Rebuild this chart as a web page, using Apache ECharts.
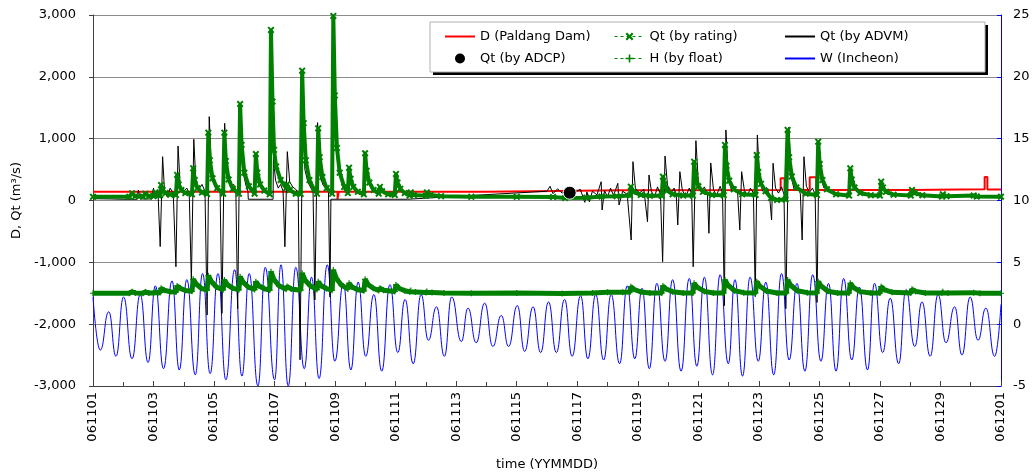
<!DOCTYPE html>
<html style="height: 100%">
   <head>
       <meta charset="utf-8">
   </head>
   <body style="height: 100%; margin: 0">
       <div id="container" style="width: 1034px; height: 476px"></div>
       <script type="text/javascript" src="https://cdn.jsdelivr.net/npm/echarts/dist/echarts.min.js"></script>
       <script type="text/javascript">
// time is in days from 061101 00:00
// D (Paldang Dam), m3/s, step line
var dataD = [
    [0,140],[8.08,25],[8.12,140],[13.0,165],[17.5,170],[22.72,360],[22.85,170],
    [23.68,375],[23.9,170],[27.0,180],[29.46,380],[29.55,178],[30,178]
];

// Qt (by rating), m3/s
var dataRating = [
    [0,60],[1.2,60],[1.29,116],[1.4,70],[1.65,65],[1.73,110],[1.85,70],[2.0,70],[2.06,130],[2.15,85],
    [2.22,90],[2.25,250],[2.3,170],[2.4,120],[2.55,95],[2.74,90],
    [2.78,413],[2.83,260],[2.92,170],[3.05,120],[3.27,100],
    [3.31,521],[3.36,330],[3.45,200],[3.6,130],[3.77,105],
    [3.81,1097],[3.86,650],[3.95,360],[4.1,200],[4.3,110],
    [4.34,1097],[4.39,640],[4.48,340],[4.62,190],[4.82,110],
    [4.86,1561],[4.91,900],[5.0,450],[5.15,230],[5.34,110],
    [5.38,752],[5.43,450],[5.52,260],[5.66,160],[5.84,100],
    [5.88,2759],[5.93,1600],[5.98,820],[6.05,550],[6.2,330],[6.38,200],
    [6.41,260],[6.5,170],[6.7,110],[6.86,105],
    [6.91,2100],[6.96,1250],[7.03,650],[7.15,330],[7.3,180],[7.4,110],
    [7.44,1168],[7.49,700],[7.58,380],[7.72,200],[7.9,110],
    [7.94,2985],[7.99,1700],[8.06,850],[8.15,450],[8.3,220],[8.42,120],
    [8.46,531],[8.51,350],[8.6,220],[8.75,140],[8.95,100],
    [8.99,764],[9.04,480],[9.13,290],[9.27,170],[9.44,110],
    [9.48,220],[9.55,150],[9.75,100],[9.97,90],
    [10.01,429],[10.06,290],[10.15,190],[10.3,120],[10.46,80],
    [10.5,130],[10.6,90],[11.0,75],[11.03,130],[11.15,90],[11.5,70],
    [12.5,60],[14.0,60],[15.2,55],[15.6,40],[16.3,45],[16.8,65],[17.3,70],[17.74,80],
    [17.77,223],[17.85,140],[18.1,90],[18.4,75],[18.79,75],
    [18.83,385],[18.88,260],[18.97,160],[19.15,100],[19.5,80],[19.82,80],
    [19.86,628],[19.91,400],[20.0,230],[20.15,140],[20.45,90],[20.84,85],
    [20.88,898],[20.93,560],[21.02,320],[21.17,180],[21.45,100],[21.89,90],
    [21.93,736],[21.98,460],[22.07,270],[22.22,150],[22.4,40],[22.6,10],[22.88,15],
    [22.95,1141],[23.0,700],[23.09,390],[23.24,210],[23.55,110],[23.92,90],
    [23.96,951],[24.01,590],[24.1,330],[24.25,180],[24.55,100],[24.98,80],
    [25.02,521],[25.07,340],[25.16,210],[25.35,120],[25.7,85],[26.0,80],
    [26.04,304],[26.1,210],[26.2,140],[26.45,95],[27.02,80],
    [27.06,170],[27.15,120],[27.4,85],[28.05,65],[28.08,100],[28.2,70],
    [29.1,80],[29.2,65],[30,62]
];

// Qt (by ADVM), m3/s
var dataADVM = [
    [0,30],[0.6,25],[1.0,20],[1.45,20],[1.5,170],[1.56,25],[1.95,25],[2.0,200],[2.06,60],[2.15,110],
    [2.22,-745],[2.30,709],[2.36,180],[2.45,60],[2.55,200],[2.65,120],
    [2.74,-1071],[2.81,882],[2.88,250],[3.0,150],[3.1,200],[3.18,110],
    [3.25,-1314],[3.33,990],[3.4,300],[3.5,180],[3.6,260],[3.7,150],
    [3.77,-1853],[3.84,1356],[3.92,400],[4.02,250],[4.12,200],[4.2,150],
    [4.26,-1825],[4.35,1249],[4.43,380],[4.55,220],[4.65,260],[4.72,160],
    [4.78,-1750],[4.86,1500],[4.94,500],[5.05,250],[5.12,150],[5.13,20],[5.95,20],
    [5.96,700],[6.03,330],[6.12,200],[6.2,260],[6.28,150],
    [6.34,-748],[6.42,790],[6.5,300],[6.6,220],[6.7,180],[6.78,120],
    [6.84,-2576],[6.93,1654],[7.0,500],[7.1,300],[7.2,200],[7.27,150],
    [7.33,-1610],[7.42,1259],[7.5,400],[7.6,250],[7.7,200],[7.78,150],
    [7.83,-1560],[7.86,20],[10.4,20],[12.1,70],[15.0,150],
    [15.1,230],[15.2,110],[15.35,190],[15.5,120],[15.65,160],[15.9,130],[16.1,180],[16.25,-30],
    [16.32,140],[16.4,-20],[16.5,150],[16.65,90],[16.79,304],[16.82,-154],[16.9,160],[17.0,60],
    [17.1,200],[17.2,80],[17.34,278],[17.38,-73],[17.5,150],[17.65,100],
    [17.78,-639],[17.84,628],[17.92,200],[18.05,120],[18.2,180],
    [18.32,-343],[18.37,413],[18.45,150],[18.55,50],[18.65,220],[18.75,100],
    [18.82,-990],[18.9,720],[18.98,250],[19.1,120],[19.2,200],[19.27,90],
    [19.32,-396],[19.39,466],[19.47,170],[19.58,60],[19.7,200],[19.78,110],
    [19.83,-1071],[19.92,968],[20.0,300],[20.1,150],[20.2,220],[20.3,100],
    [20.35,-530],[20.41,607],[20.5,180],[20.6,80],[20.72,230],[20.8,120],
    [20.86,-1700],[20.91,1141],[21.0,350],[21.1,160],[21.2,230],[21.3,110],
    [21.37,-477],[21.43,466],[21.52,170],[21.62,70],[21.72,200],[21.82,120],
    [21.88,-1555],[21.95,1060],[22.03,320],[22.13,150],[22.25,210],[22.35,100],
    [22.42,-316],[22.47,602],[22.55,200],[22.65,120],[22.75,220],[22.83,100],
    [22.89,-1750],[22.99,1184],[23.07,380],[23.17,170],[23.27,240],[23.37,110],
    [23.43,-639],[23.49,709],[23.57,230],[23.67,130],[23.77,200],[23.86,100],
    [23.92,-1650],[23.99,951],[24.07,330],[24.15,200]
];

// Qt (by ADCP), m3/s
var dataADCP = [
    [15.75,126]
];

// H (by float), m
var dataH = [
    [0,2.5],[1.2,2.5],[1.29,2.62],[1.4,2.52],[1.65,2.5],[1.73,2.6],[1.85,2.52],[2.0,2.52],[2.06,2.65],[2.15,2.55],
    [2.22,2.56],[2.25,2.9],[2.35,2.75],[2.55,2.62],[2.74,2.6],
    [2.78,3.09],[2.88,2.9],[3.05,2.72],[3.27,2.66],
    [3.31,3.63],[3.41,3.25],[3.58,2.9],[3.77,2.75],
    [3.81,3.92],[3.91,3.45],[4.08,3.0],[4.3,2.78],
    [4.34,3.57],[4.44,3.2],[4.61,2.92],[4.82,2.78],
    [4.86,3.84],[4.96,3.4],[5.13,3.0],[5.34,2.8],
    [5.38,3.44],[5.48,3.1],[5.65,2.88],[5.84,2.75],
    [5.88,4.24],[5.98,3.6],[6.15,3.1],[6.38,2.82],
    [6.41,3.05],[6.55,2.85],[6.86,2.75],
    [6.91,4.11],[7.01,3.55],[7.18,3.1],[7.4,2.8],
    [7.44,3.44],[7.54,3.1],[7.71,2.88],[7.9,2.75],
    [7.94,4.38],[8.04,3.7],[8.21,3.15],[8.42,2.85],
    [8.46,3.31],[8.56,3.0],[8.73,2.8],[8.95,2.7],
    [8.99,3.63],[9.09,3.2],[9.26,2.9],[9.44,2.72],
    [9.48,2.9],[9.6,2.75],[9.97,2.65],
    [10.01,3.17],[10.11,2.9],[10.3,2.7],[10.46,2.62],
    [10.5,2.72],[10.65,2.6],[11.0,2.56],[11.03,2.65],[11.2,2.56],[11.6,2.52],
    [12.5,2.5],[14.0,2.52],[15.5,2.48],[16.5,2.52],[17.0,2.58],[17.5,2.58],[17.74,2.6],
    [17.77,3.03],[17.87,2.82],[18.1,2.6],[18.4,2.52],[18.79,2.52],
    [18.83,3.09],[18.93,2.86],[19.15,2.62],[19.5,2.52],[19.82,2.52],
    [19.86,3.31],[19.96,3.0],[20.2,2.65],[20.5,2.52],[20.84,2.52],
    [20.88,3.57],[20.98,3.15],[21.2,2.7],[21.5,2.55],[21.89,2.52],
    [21.93,3.44],[22.03,3.08],[22.25,2.68],[22.6,2.52],[22.91,2.52],
    [22.95,3.57],[23.05,3.15],[23.27,2.7],[23.6,2.55],[23.92,2.52],
    [23.96,3.44],[24.06,3.08],[24.28,2.66],[24.6,2.52],[24.98,2.52],
    [25.02,3.31],[25.12,2.98],[25.35,2.63],[25.7,2.52],[26.0,2.52],
    [26.04,3.03],[26.14,2.8],[26.4,2.58],[27.02,2.52],
    [27.06,2.82],[27.18,2.65],[27.5,2.52],[28.05,2.52],[28.08,2.62],[28.25,2.52],
    [29.1,2.55],[29.3,2.5],[30,2.5]
];

// W (Incheon), m -- high and low waters
var dataW = [
    [0,2.2],[0.24,-2.1],[0.52,1.0],[0.76,-2.6],[1.01,2.2],[1.29,-2.8],[1.56,2.4],[1.82,-3.1],
    [2.06,3.1],[2.33,-3.6],[2.61,3.5],[2.85,-3.7],[3.10,3.6],[3.38,-4.1],[3.62,4.1],[3.87,-4.0],
    [4.13,4.1],[4.39,-4.5],[4.68,4.4],[4.92,-4.2],[5.16,4.1],[5.45,-5.0],[5.69,4.6],[6.0,-4.5],
    [6.21,4.8],[6.45,-5.0],[6.70,4.6],[6.98,-3.6],[7.22,3.8],[7.47,-4.4],[7.74,4.8],[7.99,-3.0],
    [8.27,3.3],[8.52,-3.7],[8.76,3.4],[9.01,-2.6],[9.28,2.4],[9.54,-3.8],[9.81,3.2],[10.07,-2.3],
    [10.31,2.0],[10.58,-3.2],[10.84,2.4],[11.08,-1.3],[11.35,1.4],[11.61,-2.6],[11.85,2.2],[12.17,-1.4],
    [12.39,1.3],[12.66,-1.5],[12.94,1.7],[13.21,-1.8],[13.49,0.7],[13.73,-1.8],[14.02,1.5],[14.26,-2.2],
    [14.54,1.4],[14.79,-2.3],[15.05,1.8],[15.31,-2.3],[15.58,2.0],[15.83,-2.6],[16.11,2.3],[16.35,-2.8],
    [16.61,2.4],[16.87,-2.9],[17.12,2.4],[17.40,-3.2],[17.65,3.1],[17.90,-2.8],[18.14,2.9],[18.38,-3.6],
    [18.63,3.3],[18.90,-3.0],[19.15,3.6],[19.43,-3.8],[19.70,3.7],[19.95,-3.4],[20.20,3.8],[20.47,-4.1],
    [20.72,4.0],[20.99,-3.2],[21.21,3.6],[21.46,-4.2],[21.71,3.8],[21.98,-3.0],[22.23,3.4],[22.49,-4.1],
    [22.75,4.1],[23.0,-2.9],[23.26,3.3],[23.52,-3.8],[23.78,4.0],[24.05,-3.0],[24.30,3.3],[24.55,-3.8],
    [24.80,3.7],[25.07,-2.9],[25.32,3.0],[25.59,-3.7],[25.82,3.3],[26.09,-2.3],[26.34,2.1],[26.62,-3.2],
    [26.86,2.8],[27.15,-1.8],[27.39,1.8],[27.66,-2.6],[27.92,2.4],[28.18,-1.5],[28.47,1.4],[28.71,-2.5],
    [28.98,2.2],[29.24,-1.3],[29.50,1.3],[29.79,-2.6],[30,1.6]
];

var dom = document.getElementById("container");
var myChart = echarts.init(dom, null, {renderer: 'canvas'});
var option = null;

var FONT = 'DejaVu Sans';
var GREEN = '#008000';
// x-shaped and plus-shaped markers like the spreadsheet ones
var xMark = 'path://M0,2L2,0L5,3L8,0L10,2L7,5L10,8L8,10L5,7L2,10L0,8L3,5Z';
var plusMark = 'path://M4,0H6V4H10V6H6V10H4V6H0V4H4Z';

function dayLabel(v) {
    if (v >= 30) return '061201';
    var d = Math.round(v) + 1;
    return '0611' + (d < 10 ? '0' + d : d);
}

function thousands(v) {
    return String(v).replace(/\B(?=(\d{3})+(?!\d))/g, ',');
}

var legendText = {color: '#000', fontSize: 13, fontFamily: FONT};
var noMark = {opacity: 0};

option = {
    animation: false,
    backgroundColor: '#fff',
    grid: {left: 93, right: 33, top: 15, bottom: 90},
    graphic: [
        {type: 'rect', z: 3, shape: {x: 433, y: 25, width: 555, height: 50}, style: {fill: '#000'}},
        {type: 'rect', z: 3, shape: {x: 430, y: 22, width: 555, height: 50}, style: {fill: '#fff', stroke: '#b0b0b0', lineWidth: 1}}
    ],
    legend: [
        {
            orient: 'vertical', left: 439, top: 25, itemGap: 9, itemWidth: 30, itemHeight: 10, z: 5,
            textStyle: legendText,
            data: [{name: 'D (Paldang Dam)', itemStyle: noMark}, {name: 'Qt (by ADCP)', itemStyle: {borderWidth: 0}}]
        },
        {
            orient: 'vertical', left: 609, top: 25, itemGap: 9, itemWidth: 30, itemHeight: 10, z: 5,
            textStyle: legendText,
            data: [
                {name: 'Qt (by rating)', lineStyle: {width: 1, type: [3, 3]}},
                {name: 'H (by float)', lineStyle: {width: 1, type: [3, 3]}}
            ]
        },
        {
            orient: 'vertical', left: 779, top: 25, itemGap: 9, itemWidth: 30, itemHeight: 10, z: 5,
            textStyle: legendText,
            data: [{name: 'Qt (by ADVM)', itemStyle: noMark}, {name: 'W (Incheon)', itemStyle: noMark}]
        }
    ],
    xAxis: {
        type: 'value',
        min: 0,
        max: 30,
        interval: 2,
        name: 'time (YYMMDD)',
        nameLocation: 'middle',
        nameGap: 72,
        nameTextStyle: {color: '#000', fontSize: 13, fontFamily: FONT},
        axisLine: {onZero: false, lineStyle: {color: '#404040', width: 1}},
        axisTick: {inside: true, length: 5, lineStyle: {color: '#404040'}},
        minorTick: {show: true, splitNumber: 2, length: 4, lineStyle: {color: '#404040'}},
        splitLine: {show: false},
        axisLabel: {rotate: 90, margin: 6, color: '#000', fontSize: 13, fontFamily: FONT, formatter: dayLabel}
    },
    yAxis: [
        {
            type: 'value',
            min: -3000,
            max: 3000,
            interval: 1000,
            name: 'D, Qt (m³/s)',
            nameLocation: 'middle',
            nameGap: 68,
            nameTextStyle: {color: '#000', fontSize: 13, fontFamily: FONT},
            axisLine: {show: true, lineStyle: {color: '#404040'}},
            axisTick: {show: true, length: 4, lineStyle: {color: '#404040'}},
            splitLine: {show: true, lineStyle: {color: '#8c8c8c', width: 1}},
            axisLabel: {margin: 17, color: '#000', fontSize: 13, fontFamily: FONT, formatter: thousands}
        },
        {
            type: 'value',
            min: -5,
            max: 25,
            interval: 5,
            position: 'right',
            axisLine: {show: true, lineStyle: {color: '#0000ff'}},
            axisTick: {show: true, inside: true, length: 4, lineStyle: {color: '#0000ff'}},
            splitLine: {show: false},
            axisLabel: {margin: 12, color: '#000', fontSize: 13, fontFamily: FONT}
        }
    ],
    series: [
        {
            name: 'W (Incheon)',
            type: 'line',
            yAxisIndex: 1,
            data: dataW,
            symbol: 'none',
            smooth: 0.5,
            smoothMonotone: 'x',
            z: 1,
            itemStyle: {color: '#0000ff'},
            lineStyle: {color: '#0000ff', width: 1}
        },
        {
            name: 'D (Paldang Dam)',
            type: 'line',
            step: 'end',
            data: dataD,
            symbol: 'none',
            z: 2,
            itemStyle: {color: '#ff0000'},
            lineStyle: {color: '#ff0000', width: 2}
        },
        {
            name: 'Qt (by ADVM)',
            type: 'line',
            data: dataADVM,
            symbol: 'none',
            z: 3,
            itemStyle: {color: '#000'},
            lineStyle: {color: '#000', width: 1}
        },
        {
            name: 'H (by float)',
            type: 'line',
            yAxisIndex: 1,
            data: dataH,
            symbol: plusMark,
            symbolSize: 6,
            z: 4,
            itemStyle: {color: GREEN},
            lineStyle: {color: GREEN, width: 5}
        },
        {
            name: 'Qt (by rating)',
            type: 'line',
            data: dataRating,
            symbol: xMark,
            symbolSize: 7,
            z: 4,
            itemStyle: {color: GREEN},
            lineStyle: {color: GREEN, width: 4}
        },
        {
            name: 'Qt (by ADCP)',
            type: 'scatter',
            data: dataADCP,
            symbol: 'circle',
            symbolSize: 13,
            z: 6,
            itemStyle: {color: '#000', borderColor: '#fff', borderWidth: 1, opacity: 1}
        }
    ]
};

if (option && typeof option === "object") {
    myChart.setOption(option, true);
}
       </script>
   </body>
</html>
